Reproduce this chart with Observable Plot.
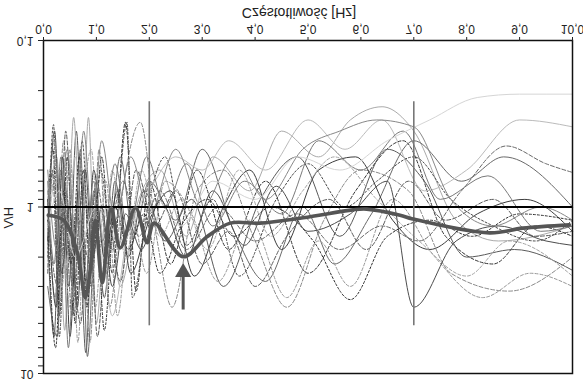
<!DOCTYPE html>
<html>
<head>
<meta charset="utf-8">
<script src="https://cdn.jsdelivr.net/npm/d3@7"></script>
<script src="https://cdn.jsdelivr.net/npm/@observablehq/plot@0.6"></script>
<style>
  html, body { margin: 0; padding: 0; background: #fff; }
  #chart svg { display: block; transform: scaleY(-1); }
</style>
</head>
<body>
<div id="chart"></div>
<script>
// ---- axis ticks ----
const freqTicks = [0, 1, 2, 3, 4, 5, 6, 7, 8, 9, 10];
const hvTicks = [0.1, 0.2, 0.3, 0.4, 0.5, 0.6, 0.7, 0.8, 0.9, 1, 2, 3, 4, 5, 6, 7, 8, 9, 10];
const hvLabels = [0.1, 1, 10];
const xTitle = "Częstotliwość [Hz]";
const yTitle = "H/V";

// ---- reference lines ----
const boundaryFreqs = [2, 7];
const boundaryRange = [0.23, 5.1];
const peakFreq = 2.64;
const arrowRange = [4.1, 2.3];

// ---- mean H/V curve [freq, H/V] ----
const meanCurve = [[0.09,1.12],[0.38,1.2],[0.64,1.88],[0.79,3.5],[0.89,2.29],[0.98,1.2],[1.11,2.85],[1.28,1.01],[1.45,1.76],[1.74,1.01],[1.96,1.64],[2.09,1.25],[2.64,1.99],[3.09,1.51],[3.53,1.25],[4.09,1.25],[4.91,1.16],[5.85,1.04],[6.11,1.03],[6.74,1.12],[6.98,1.18],[8.43,1.43],[9.06,1.34],[9.94,1.28]];

// ---- individual H/V curves [freq, H/V] ----
const s1 = [[0.08,1.0],[0.18,0.45],[0.3,4.5],[0.45,0.5],[0.6,5.0],[0.75,0.6],[0.9,3.0],[1.1,0.5],[1.3,2.5],[1.55,0.31],[1.75,3.2],[2.0,0.7],[2.4,2.2],[2.9,0.6],[3.5,1.8],[4.2,0.7],[5.0,2.5],[5.9,0.8],[6.8,0.4],[7.6,1.5],[8.5,2.2],[9.3,1.3],[10,1.5]];
const s2 = [[0.08,1.5],[0.2,6.0],[0.32,0.6],[0.48,3.0],[0.62,0.35],[0.8,7.5],[0.95,0.8],[1.15,3.5],[1.35,0.7],[1.6,2.0],[1.9,0.8],[2.3,1.6],[2.8,0.9],[3.4,3.0],[4.1,0.9],[4.8,0.5],[5.6,1.5],[6.5,0.45],[7.2,0.7],[8.0,2.0],[8.9,1.8],[10,2.4]];
const s3 = [[0.08,0.8],[0.22,3.5],[0.38,0.4],[0.55,2.5],[0.7,0.7],[0.88,6.5],[1.05,0.45],[1.25,4.0],[1.5,0.8],[1.83,0.31],[2.15,1.6],[2.43,4.0],[2.9,0.8],[3.4,0.6],[4.0,1.6],[4.6,4.0],[5.3,1.2],[6.0,0.6],[6.9,0.8],[7.7,2.5],[8.8,3.2],[10,2.0]];
const s4 = [[0.08,1.2],[0.25,0.5],[0.4,5.5],[0.57,0.29],[0.72,2.0],[0.85,0.29],[1.0,5.0],[1.2,0.9],[1.45,3.0],[1.8,0.9],[2.2,0.6],[2.7,1.5],[3.2,0.5],[3.9,0.8],[4.5,0.35],[5.2,0.5],[5.8,0.3],[6.4,0.25],[7.0,0.35],[7.8,1.2],[8.6,1.6],[10,1.3]];
const s5 = [[0.08,2.0],[0.19,0.32],[0.3,6.0],[0.43,0.8],[0.58,4.5],[0.73,0.4],[0.9,2.5],[1.08,0.6],[1.3,1.8],[1.58,0.31],[1.68,3.5],[2.0,0.9],[2.3,0.5],[2.7,1.7],[3.2,0.9],[3.7,2.6],[4.4,0.9],[5.0,0.55],[5.7,1.0],[6.3,0.7],[7.0,0.5],[7.7,0.9],[8.5,1.3],[9.3,1.6],[10,1.2]];
const s6 = [[0.08,3.0],[0.26,6.0],[0.4,0.7],[0.55,3.0],[0.7,0.45],[0.83,7.9],[1.0,1.0],[1.2,2.2],[1.45,0.5],[1.7,1.5],[2.0,0.7],[2.5,1.2],[3.0,0.45],[3.6,1.4],[4.2,2.8],[4.9,1.0],[5.5,2.2],[6.2,1.1],[7.0,0.4],[7.9,0.7],[8.7,0.5],[10,1.0]];
const s7 = [[0.08,1.3],[0.2,0.4],[0.35,3.0],[0.5,0.45],[0.65,6.5],[0.8,0.9],[0.98,4.0],[1.18,0.7],[1.4,4.5],[1.65,1.0],[1.95,2.5],[2.3,0.7],[2.8,1.1],[3.3,2.8],[3.9,1.2],[4.6,3.5],[5.2,1.6],[5.8,3.0],[6.6,0.9],[7.4,2.0],[8.3,3.5],[9.2,2.5],[10,3.0]];
const s8 = [[0.08,0.9],[0.24,4.0],[0.36,0.5],[0.5,6.0],[0.66,0.8],[0.8,2.8],[0.95,0.6],[1.15,2.0],[1.4,0.8],[1.65,2.5],[2.0,1.2],[2.4,0.8],[2.85,2.6],[3.4,1.0],[3.9,0.6],[4.5,1.8],[5.2,0.6],[5.9,0.5],[6.6,1.2],[7.3,1.8],[8.2,1.1],[9.1,0.9],[10,1.4]];
const s9 = [[0.08,1.5],[0.22,0.7],[0.4,2.5],[0.6,0.5],[0.8,3.0],[1.0,0.9],[1.3,4.5],[1.6,1.4],[2.0,0.8],[2.5,0.5],[3.0,0.6],[3.5,0.4],[4.2,0.6],[5.0,0.3],[5.7,0.45],[6.4,0.3],[7.2,0.8],[8.0,0.6],[9.0,0.3],[10,0.33]];
const s10 = [[0.08,2.5],[0.17,0.6],[0.28,3.5],[0.42,0.35],[0.56,2.0],[0.7,5.0],[0.86,1.0],[1.02,6.0],[1.22,1.2],[1.45,2.8],[1.75,0.6],[2.1,1.3],[2.5,0.8],[3.0,2.2],[3.5,1.4],[4.0,3.0],[4.6,1.5],[5.4,0.9],[6.1,1.8],[6.9,0.7],[7.6,1.2],[8.5,0.9],[9.3,1.5],[10,1.4]];
const s11 = [[0.08,0.7],[0.2,2.2],[0.33,0.5],[0.47,7.0],[0.62,1.1],[0.78,3.5],[0.94,0.7],[1.12,1.6],[1.35,0.55],[1.6,1.4],[1.95,0.5],[2.3,1.0],[2.7,0.55],[3.2,1.3],[3.8,0.7],[4.5,1.1],[5.2,0.4],[6.0,0.6],[6.8,0.35],[7.5,0.9],[8.4,0.65],[9.4,1.4],[10,1.3]];
const s12 = [[0.08,1.2],[0.23,7.0],[0.37,0.8],[0.52,2.2],[0.68,0.5],[0.82,4.0],[0.98,0.8],[1.15,5.5],[1.35,1.0],[1.6,1.8],[1.9,1.1],[2.2,2.5],[2.6,1.3],[3.1,0.9],[3.6,1.5],[4.3,1.0],[5.1,1.6],[5.8,3.6],[6.5,1.5],[7.3,1.2],[8.1,1.5],[9.0,1.1],[10,1.2]];
const s13 = [[0.08,1.0],[0.3,0.6],[0.5,4.0],[0.7,1.3],[0.9,0.45],[1.1,3.0],[1.3,0.6],[1.55,2.0],[1.85,0.6],[2.2,1.5],[2.6,0.9],[3.1,1.8],[3.7,0.6],[4.3,1.5],[4.9,0.8],[5.5,0.5],[6.3,0.9],[7.1,1.6],[8.0,2.6],[8.8,1.6],[10,2.6]];
const s14 = [[0.08,1.6],[0.21,0.35],[0.34,2.5],[0.49,1.0],[0.64,4.0],[0.79,0.6],[0.93,2.0],[1.1,1.0],[1.3,3.0],[1.55,1.1],[1.85,1.8],[2.2,0.9],[2.7,2.0],[3.2,0.8],[3.8,1.7],[4.4,0.75],[5.0,1.4],[5.8,1.1],[6.5,0.7],[7.0,4.0],[7.8,1.6],[8.6,1.3],[9.5,1.6],[10,1.7]];
const s15 = [[0.08,0.6],[0.25,1.8],[0.45,0.45],[0.6,1.5],[0.76,0.35],[0.92,1.3],[1.1,0.4],[1.35,1.2],[1.65,0.5],[2.0,1.1],[2.5,0.45],[3.0,1.0],[3.6,0.5],[4.2,0.9],[4.9,0.45],[5.6,0.35],[6.3,0.3],[7.0,0.33],[7.7,0.9],[8.5,1.3],[9.4,1.0],[10,1.2]];
const s16 = [[0.08,1.3],[0.3,0.8],[0.6,2.0],[1.0,1.0],[1.5,1.6],[2.0,0.8],[2.6,1.3],[3.2,0.7],[4.0,0.9],[4.8,0.5],[5.6,0.6],[6.5,0.4],[7.3,0.3],[8.2,0.22],[9.0,0.21],[10,0.21]];
const s17 = [[0.08,1.1],[0.27,3.0],[0.4,1.0],[0.54,4.5],[0.69,1.2],[0.84,2.0],[1.0,0.7],[1.2,1.5],[1.5,0.7],[1.8,1.5],[2.2,0.8],[2.7,1.8],[3.3,1.0],[4.0,1.6],[4.8,1.1],[5.6,1.8],[6.4,1.3],[7.1,1.6],[7.9,0.8],[8.75,0.43],[9.5,0.55],[10,0.62]];

const series = [s1, s2, s3, s4, s5, s6, s7, s8, s9, s10, s11, s12, s13, s14, s15, s16, s17];

// styles (kept separate from the data)
const strokes = ["#333","#5a5a5a","#8a8a8a","#aaa","#4a4a4a","#6a6a6a","#999","#3d3d3d","#bbb","#5a5a5a","#7a7a7a","#2e2e2e","#a5a5a5","#4d4d4d","#888","#d5d5d5","#6a6a6a"];
const dashes  = ["3,2", null, "4,2", null, "2,2", null, "3,2", null, null, "4,2", null, "2,2", "3,2", null, null, null, "4,2"];

const toRows = pts => pts.map(([f, v]) => ({f, v}));
const fmt = d => d.toFixed(1).replace(".", ",");

const thinMarks = series.map((pts, i) => Plot.line(toRows(pts), {
  x: "f", y: "v", curve: "monotone-x",
  stroke: strokes[i], strokeWidth: 1,
  strokeDasharray: dashes[i] || undefined
}));

const chart = Plot.plot({
  width: 583,
  height: 384,
  marginLeft: 43,
  marginRight: 11,
  marginTop: 10,
  marginBottom: 41,
  style: {fontFamily: "Arial, 'Liberation Sans', sans-serif", fontSize: "12px", color: "#222", background: "#fff"},
  x: {domain: [0, 10]},
  y: {type: "log", domain: [0.1, 10]},
  marks: [
    ...thinMarks,
    Plot.ruleY([1], {stroke: "#000", strokeWidth: 2}),
    Plot.ruleX(boundaryFreqs, {y1: boundaryRange[0], y2: boundaryRange[1], stroke: "#777", strokeWidth: 1.6}),
    Plot.line(toRows(meanCurve), {x: "f", y: "v", curve: "catmull-rom", stroke: "#555", strokeWidth: 3.6}),
    Plot.ruleX([peakFreq], {y1: arrowRange[0], y2: arrowRange[1] * 1.12, stroke: "#555", strokeWidth: 3}),
    Plot.dot([peakFreq], {x: d => d, y: arrowRange[1], dy: -5, symbol: "triangle", r: 6, rotate: 180, fill: "#555", stroke: "none"}),
    Plot.frame({stroke: "#111", strokeWidth: 1.5}),
    Plot.axisX({ticks: freqTicks, tickFormat: fmt, tickSize: 4, tickPadding: 3, label: null, fontSize: 12}),
    Plot.axisY({ticks: hvTicks, tickFormat: d => hvLabels.includes(d) ? (d < 1 ? fmt(d) : String(d)) : "", tickSize: 5, tickPadding: 5, label: null, fontSize: 12}),
    Plot.text([xTitle], {frameAnchor: "bottom", dx: -9, dy: 33, fontSize: 14, fill: "#222"}),
    Plot.text([yTitle], {frameAnchor: "left", dx: -35, rotate: -90, fontSize: 13, fill: "#222"})
  ]
});
document.getElementById("chart").appendChild(chart);
</script>
</body>
</html>
